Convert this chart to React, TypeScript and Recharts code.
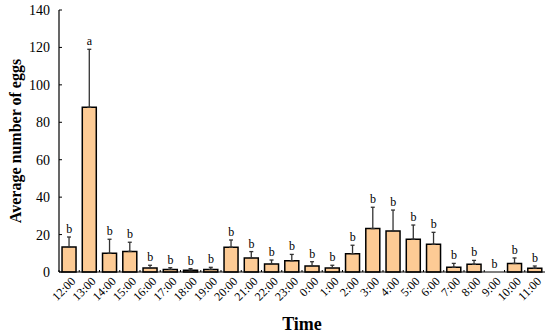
import {
  ComposedChart,
  Bar,
  Line,
  XAxis,
  YAxis,
  ErrorBar,
  LabelList,
  Label,
} from "recharts"

const SERIF = "'Liberation Serif', 'Times New Roman', serif"
const C_BAR = "#FDCB95"
const C_INK = "#000000"
const C_ERR = "#333333"

const HOURS = [
  "12:00", "13:00", "14:00", "15:00", "16:00", "17:00", "18:00", "19:00",
  "20:00", "21:00", "22:00", "23:00", "0:00", "1:00", "2:00", "3:00",
  "4:00", "5:00", "6:00", "7:00", "8:00", "9:00", "10:00", "11:00",
]
const MEANS = [
  13.3, 88, 10, 11, 2.1, 1.4, 1, 1.4, 13.2, 7.5, 4.3, 6,
  3.2, 2.1, 9.8, 23.2, 21.9, 17.5, 14.8, 2.5, 4.1, 0, 4.6, 2,
]
const ERRS = [
  5.4, 31, 7.5, 4.9, 1.5, 0.9, 0.8, 1.1, 3.9, 3.4, 2.1, 3.4,
  2.3, 1.5, 4.5, 11.4, 11.2, 7.6, 6.4, 2.1, 2.1, 0, 2.9, 1.2,
]
const LETTERS = [
  "b", "a", "b", "b", "b", "b", "b", "b", "b", "b", "b", "b",
  "b", "b", "b", "b", "b", "b", "b", "b", "b", "b", "b", "b",
]
const Y_TICKS = [0, 20, 40, 60, 80, 100, 120, 140]

const data = HOURS.map((h, i) => ({
  hour: h,
  mean: MEANS[i],
  err: [0, ERRS[i]],
  top: MEANS[i] + ERRS[i],
  letter: LETTERS[i],
}))

function HourTick(props: any) {
  const { x, y, payload } = props
  const half = payload?.offset ?? 10
  return (
    <g>
      <line x1={x - half} x2={x - half} y1={y - 8} y2={y - 10} stroke={C_INK} strokeWidth={1} />
      <text
        x={x + 5}
        y={y}
        transform={`rotate(-45, ${x + 5}, ${y})`}
        textAnchor="end"
        fontFamily={SERIF}
        fontSize={12}
        fill={C_INK}
        dy={3}
      >
        {payload.value}
      </text>
    </g>
  )
}

function LetterLabel(props: any) {
  const { x, y, value } = props
  return (
    <text x={x} y={y - 4} textAnchor="middle" fontFamily={SERIF} fontSize={12} fill={C_INK}>
      {value}
    </text>
  )
}

export default function App() {
  return (
    <div style={{ position: "absolute", left: 0, top: 0, width: 550, height: 334, background: "#fff" }}>
      <ComposedChart
        width={550}
        height={334}
        data={data}
        barCategoryGap="15%"
        margin={{ top: 10, right: 5, bottom: 0, left: 0 }}
      >
        <XAxis
          dataKey="hour"
          interval={0}
          height={62}
          tick={<HourTick />}
          tickLine={false}
          axisLine={{ stroke: C_INK, strokeWidth: 1.2 }}
        >
          <Label
            value="Time"
            position="insideBottom"
            offset={4}
            style={{ fontFamily: SERIF, fontSize: 18, fontWeight: "bold", fill: C_INK }}
          />
        </XAxis>
        <YAxis
          domain={[0, 140]}
          ticks={Y_TICKS}
          width={59}
          tickSize={-3}
          tickMargin={12}
          tick={{ fontFamily: SERIF, fontSize: 14, fill: C_INK }}
          tickLine={{ stroke: C_INK }}
          axisLine={{ stroke: C_INK, strokeWidth: 1.2 }}
        >
          <Label
            content={({ viewBox }: any) => {
              const cx = 15
              const cy = viewBox.y + viewBox.height / 2
              return (
                <text
                  x={cx}
                  y={cy}
                  transform={`rotate(-90, ${cx}, ${cy})`}
                  textAnchor="middle"
                  dominantBaseline="central"
                  fontFamily={SERIF}
                  fontSize={16}
                  fontWeight="bold"
                  fill={C_INK}
                >
                  Average number of eggs
                </text>
              )
            }}
          />
        </YAxis>
        <Bar dataKey="mean" fill={C_BAR} stroke={C_INK} strokeWidth={1.5} isAnimationActive={false}>
          <ErrorBar dataKey="err" direction="y" width={2} stroke={C_ERR} strokeWidth={1.3} />
        </Bar>
        <Line
          dataKey="top"
          stroke="none"
          dot={false}
          activeDot={false}
          isAnimationActive={false}
        >
          <LabelList dataKey="letter" content={<LetterLabel />} />
        </Line>
      </ComposedChart>
    </div>
  )
}
